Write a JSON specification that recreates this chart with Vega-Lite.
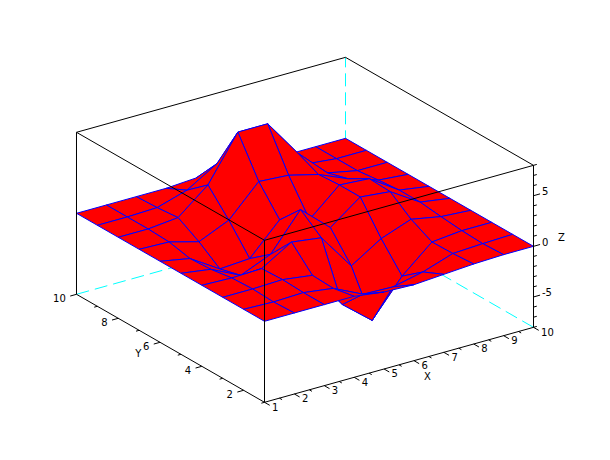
{"$schema":"https://vega.github.io/schema/vega-lite/v6.json","width":610,"height":460,"padding":0,"autosize":{"type":"fit","contains":"padding"},"background":"white","view":{"stroke":null},
"datasets":{
"grid":[
{"id":1010,"X":10,"Y":10,"Z":0},{"id":1009,"X":10,"Y":9,"Z":0},{"id":1008,"X":10,"Y":8,"Z":0},{"id":1007,"X":10,"Y":7,"Z":0},{"id":1006,"X":10,"Y":6,"Z":0},{"id":1005,"X":10,"Y":5,"Z":0},{"id":1004,"X":10,"Y":4,"Z":0},{"id":1003,"X":10,"Y":3,"Z":0},{"id":1002,"X":10,"Y":2,"Z":0},{"id":1001,"X":10,"Y":1,"Z":0},
{"id":910,"X":9,"Y":10,"Z":0},{"id":909,"X":9,"Y":9,"Z":0},{"id":908,"X":9,"Y":8,"Z":0},{"id":907,"X":9,"Y":7,"Z":0.25},{"id":906,"X":9,"Y":6,"Z":0.45},{"id":905,"X":9,"Y":5,"Z":0.45},{"id":904,"X":9,"Y":4,"Z":0.2},{"id":903,"X":9,"Y":3,"Z":0},{"id":902,"X":9,"Y":2,"Z":-0.1},{"id":901,"X":9,"Y":1,"Z":0},
{"id":810,"X":8,"Y":10,"Z":0},{"id":809,"X":8,"Y":9,"Z":0.3},{"id":808,"X":8,"Y":8,"Z":0.6},{"id":807,"X":8,"Y":7,"Z":1.2},{"id":806,"X":8,"Y":6,"Z":2.4},{"id":805,"X":8,"Y":5,"Z":2.3},{"id":804,"X":8,"Y":4,"Z":0.76},{"id":803,"X":8,"Y":3,"Z":-0.3},{"id":802,"X":8,"Y":2,"Z":-0.25},{"id":801,"X":8,"Y":1,"Z":-0.1},
{"id":710,"X":7,"Y":10,"Z":0.2},{"id":709,"X":7,"Y":9,"Z":0.8},{"id":708,"X":7,"Y":8,"Z":3.4},{"id":707,"X":7,"Y":7,"Z":2.45},{"id":706,"X":7,"Y":6,"Z":2.6},{"id":705,"X":7,"Y":5,"Z":2.6},{"id":704,"X":7,"Y":4,"Z":-0.33},{"id":703,"X":7,"Y":3,"Z":-2.85},{"id":702,"X":7,"Y":2,"Z":-1.25},{"id":701,"X":7,"Y":1,"Z":-0.3},
{"id":610,"X":6,"Y":10,"Z":0.4},{"id":609,"X":6,"Y":9,"Z":3},{"id":608,"X":6,"Y":8,"Z":7.1},{"id":607,"X":6,"Y":7,"Z":3.2},{"id":606,"X":6,"Y":6,"Z":0},{"id":605,"X":6,"Y":5,"Z":0.4},{"id":604,"X":6,"Y":4,"Z":-2.2},{"id":603,"X":6,"Y":3,"Z":-6.4},{"id":602,"X":6,"Y":2,"Z":-1.9},{"id":601,"X":6,"Y":1,"Z":-0.5},
{"id":510,"X":5,"Y":10,"Z":0.2},{"id":509,"X":5,"Y":9,"Z":2.8},{"id":508,"X":5,"Y":8,"Z":7.1},{"id":507,"X":5,"Y":7,"Z":3.4},{"id":506,"X":5,"Y":6,"Z":0.8},{"id":505,"X":5,"Y":5,"Z":3},{"id":504,"X":5,"Y":4,"Z":1.4},{"id":503,"X":5,"Y":3,"Z":-4},{"id":502,"X":5,"Y":2,"Z":-1.8},{"id":501,"X":5,"Y":1,"Z":-0.4},
{"id":410,"X":4,"Y":10,"Z":0},{"id":409,"X":4,"Y":9,"Z":1},{"id":408,"X":4,"Y":8,"Z":2.7},{"id":407,"X":4,"Y":7,"Z":0.4},{"id":406,"X":4,"Y":6,"Z":-2.2},{"id":405,"X":4,"Y":5,"Z":-0.6},{"id":404,"X":4,"Y":4,"Z":1.8},{"id":403,"X":4,"Y":3,"Z":-0.3},{"id":402,"X":4,"Y":2,"Z":-0.4},{"id":401,"X":4,"Y":1,"Z":0},
{"id":310,"X":3,"Y":10,"Z":0},{"id":309,"X":3,"Y":9,"Z":0.1},{"id":308,"X":3,"Y":8,"Z":0.3},{"id":307,"X":3,"Y":7,"Z":-0.9},{"id":306,"X":3,"Y":6,"Z":-2.4},{"id":305,"X":3,"Y":5,"Z":-1.85},{"id":304,"X":3,"Y":4,"Z":0},{"id":303,"X":3,"Y":3,"Z":0.1},{"id":302,"X":3,"Y":2,"Z":0},{"id":301,"X":3,"Y":1,"Z":0},
{"id":210,"X":2,"Y":10,"Z":0},{"id":209,"X":2,"Y":9,"Z":0},{"id":208,"X":2,"Y":8,"Z":0},{"id":207,"X":2,"Y":7,"Z":-0.1},{"id":206,"X":2,"Y":6,"Z":-0.55},{"id":205,"X":2,"Y":5,"Z":-0.43},{"id":204,"X":2,"Y":4,"Z":-0.1},{"id":203,"X":2,"Y":3,"Z":0},{"id":202,"X":2,"Y":2,"Z":-0.1},{"id":201,"X":2,"Y":1,"Z":0},
{"id":110,"X":1,"Y":10,"Z":0},{"id":109,"X":1,"Y":9,"Z":0},{"id":108,"X":1,"Y":8,"Z":0},{"id":107,"X":1,"Y":7,"Z":0},{"id":106,"X":1,"Y":6,"Z":0},{"id":105,"X":1,"Y":5,"Z":0},{"id":104,"X":1,"Y":4,"Z":0},{"id":103,"X":1,"Y":3,"Z":0},{"id":102,"X":1,"Y":2,"Z":0},{"id":101,"X":1,"Y":1,"Z":0}
],
"hidden":[
{"X":1,"Y":10,"Z":-8,"X2":10,"Y2":10,"Z2":-8},{"X":10,"Y":1,"Z":-8,"X2":10,"Y2":10,"Z2":-8},{"X":10,"Y":10,"Z":-8,"X2":10,"Y2":10,"Z2":8}
],
"box":[
{"X":1,"Y":1,"Z":8,"X2":10,"Y2":1,"Z2":8},{"X":10,"Y":1,"Z":8,"X2":10,"Y2":10,"Z2":8},{"X":10,"Y":10,"Z":8,"X2":1,"Y2":10,"Z2":8},{"X":1,"Y":10,"Z":8,"X2":1,"Y2":1,"Z2":8},
{"X":1,"Y":1,"Z":-8,"X2":10,"Y2":1,"Z2":-8},{"X":1,"Y":1,"Z":-8,"X2":1,"Y2":10,"Z2":-8},
{"X":1,"Y":1,"Z":-8,"X2":1,"Y2":1,"Z2":8},{"X":1,"Y":10,"Z":-8,"X2":1,"Y2":10,"Z2":8},{"X":10,"Y":1,"Z":-8,"X2":10,"Y2":1,"Z2":8}
],
"ticks":[
{"axis":"x","v":1,"major":1},{"axis":"x","v":1.5,"major":0},{"axis":"x","v":2,"major":1},{"axis":"x","v":2.5,"major":0},{"axis":"x","v":3,"major":1},{"axis":"x","v":3.5,"major":0},{"axis":"x","v":4,"major":1},{"axis":"x","v":4.5,"major":0},{"axis":"x","v":5,"major":1},{"axis":"x","v":5.5,"major":0},{"axis":"x","v":6,"major":1},{"axis":"x","v":6.5,"major":0},{"axis":"x","v":7,"major":1},{"axis":"x","v":7.5,"major":0},{"axis":"x","v":8,"major":1},{"axis":"x","v":8.5,"major":0},{"axis":"x","v":9,"major":1},{"axis":"x","v":9.5,"major":0},{"axis":"x","v":10,"major":1},
{"axis":"y","v":1,"major":0},{"axis":"y","v":2,"major":1},{"axis":"y","v":3,"major":0},{"axis":"y","v":4,"major":1},{"axis":"y","v":5,"major":0},{"axis":"y","v":6,"major":1},{"axis":"y","v":7,"major":0},{"axis":"y","v":8,"major":1},{"axis":"y","v":9,"major":0},{"axis":"y","v":10,"major":1},
{"axis":"z","v":-8,"major":0},{"axis":"z","v":-7,"major":0},{"axis":"z","v":-6,"major":0},{"axis":"z","v":-5,"major":1},{"axis":"z","v":-4,"major":0},{"axis":"z","v":-3,"major":0},{"axis":"z","v":-2,"major":0},{"axis":"z","v":-1,"major":0},{"axis":"z","v":0,"major":1},{"axis":"z","v":1,"major":0},{"axis":"z","v":2,"major":0},{"axis":"z","v":3,"major":0},{"axis":"z","v":4,"major":0},{"axis":"z","v":5,"major":1},{"axis":"z","v":6,"major":0},{"axis":"z","v":7,"major":0},{"axis":"z","v":8,"major":0}
],
"titles":[{"text":"X","X":5.65,"Y":-0.15,"Z":-8},{"text":"Y","X":0.04,"Y":5.67,"Z":-8},{"text":"Z","X":10.93,"Y":1,"Z":0.03}]
},
"encoding":{
"x":{"field":"px","type":"quantitative","axis":null,"scale":{"domain":[0,610],"nice":false,"zero":false}},
"y":{"field":"py","type":"quantitative","axis":null,"scale":{"domain":[460,0],"nice":false,"zero":false}}
},
"layer":[
{"data":{"name":"hidden"},
"transform":[
{"calculate":"264.5+(datum.X-1)*29.889-(datum.Y-1)*20.889","as":"px"},{"calculate":"402.3-(datum.X-1)*8.33-(datum.Y-1)*12-(datum.Z+8)*10.125","as":"py"},
{"calculate":"264.5+(datum.X2-1)*29.889-(datum.Y2-1)*20.889","as":"px2"},{"calculate":"402.3-(datum.X2-1)*8.33-(datum.Y2-1)*12-(datum.Z2+8)*10.125","as":"py2"}],
"mark":{"type":"rule","stroke":"#00ffff","strokeWidth":1,"strokeDash":[13,6]},
"encoding":{"x2":{"field":"px2"},"y2":{"field":"py2"}}},
{"data":{"name":"grid"},
"transform":[
{"filter":"datum.X<10 && datum.Y<10"},
{"calculate":"[0,1,1,0,0]","as":"dx"},{"calculate":"[0,0,1,1,0]","as":"dy"},{"calculate":"[0,1,2,3,4]","as":"k"},
{"flatten":["dx","dy","k"]},
{"calculate":"'q'+datum.X+'_'+datum.Y","as":"quad"},
{"calculate":"(datum.X+datum.dx)*100+datum.Y+datum.dy","as":"key"},
{"lookup":"key","from":{"data":{"name":"grid"},"key":"id","fields":["Z"]},"as":["vz"]},
{"calculate":"264.5+(datum.X+datum.dx-1)*29.889-(datum.Y+datum.dy-1)*20.889","as":"px"},
{"calculate":"402.3-(datum.X+datum.dx-1)*8.33-(datum.Y+datum.dy-1)*12-(datum.vz+8)*10.125","as":"py"}],
"mark":{"type":"line","fill":"#ff0000","stroke":"#0000ff","strokeWidth":1,"clip":false},
"encoding":{"detail":{"field":"quad"},"order":{"field":"k","type":"quantitative"}}},
{"data":{"name":"box"},
"transform":[
{"calculate":"264.5+(datum.X-1)*29.889-(datum.Y-1)*20.889","as":"px"},{"calculate":"402.3-(datum.X-1)*8.33-(datum.Y-1)*12-(datum.Z+8)*10.125","as":"py"},
{"calculate":"264.5+(datum.X2-1)*29.889-(datum.Y2-1)*20.889","as":"px2"},{"calculate":"402.3-(datum.X2-1)*8.33-(datum.Y2-1)*12-(datum.Z2+8)*10.125","as":"py2"}],
"mark":{"type":"rule","stroke":"#000000","strokeWidth":1},
"encoding":{"x2":{"field":"px2"},"y2":{"field":"py2"}}},
{"data":{"name":"ticks"},
"transform":[
{"calculate":"datum.axis=='x'?datum.v:(datum.axis=='y'?1:10)","as":"X"},
{"calculate":"datum.axis=='y'?datum.v:1","as":"Y"},
{"calculate":"datum.axis=='z'?datum.v:-8","as":"Z"},
{"calculate":"datum.major?1:0.5","as":"len"},
{"calculate":"datum.X+(datum.axis=='y'?-0.21*datum.len:(datum.axis=='z'?0.22*datum.len:0))","as":"X2"},
{"calculate":"datum.Y+(datum.axis=='x'?-0.25*datum.len:0)","as":"Y2"},
{"calculate":"264.5+(datum.X-1)*29.889-(datum.Y-1)*20.889","as":"px"},{"calculate":"402.3-(datum.X-1)*8.33-(datum.Y-1)*12-(datum.Z+8)*10.125","as":"py"},
{"calculate":"264.5+(datum.X2-1)*29.889-(datum.Y2-1)*20.889","as":"px2"},{"calculate":"402.3-(datum.X2-1)*8.33-(datum.Y2-1)*12-(datum.Z+8)*10.125","as":"py2"}],
"mark":{"type":"rule","stroke":"#000000","strokeWidth":1},
"encoding":{"x2":{"field":"px2"},"y2":{"field":"py2"}}},
{"data":{"name":"ticks"},
"transform":[{"filter":"datum.major==1 && datum.axis=='x'"},
{"calculate":"264.5+(datum.v-1)*29.889+21*0.36","as":"px"},{"calculate":"402.3-(datum.v-1)*8.33+12*0.36","as":"py"}],
"mark":{"type":"text","align":"left","baseline":"middle","font":"DejaVu Sans","fontSize":10,"fill":"#000000","dy":1},
"encoding":{"text":{"field":"v","type":"nominal"}}},
{"data":{"name":"ticks"},
"transform":[{"filter":"datum.major==1 && datum.axis=='y'"},
{"calculate":"264.5-0.39*29.889-(datum.v-1)*20.889","as":"px"},{"calculate":"402.3+0.39*8.33-(datum.v-1)*12","as":"py"}],
"mark":{"type":"text","align":"right","baseline":"middle","font":"DejaVu Sans","fontSize":10,"fill":"#000000","dx":1,"dy":1},
"encoding":{"text":{"field":"v","type":"nominal"}}},
{"data":{"name":"ticks"},
"transform":[{"filter":"datum.major==1 && datum.axis=='z'"},
{"calculate":"533+0.3*29.78","as":"px"},{"calculate":"402.3-9*8.33-0.3*8.33-(datum.v+8)*10.125","as":"py"}],
"mark":{"type":"text","align":"left","baseline":"middle","font":"DejaVu Sans","fontSize":10,"fill":"#000000","dy":-1},
"encoding":{"text":{"field":"v","type":"nominal"}}},
{"data":{"name":"titles"},
"transform":[
{"calculate":"264.5+(datum.X-1)*29.889-(datum.Y-1)*20.889","as":"px"},{"calculate":"402.3-(datum.X-1)*8.33-(datum.Y-1)*12-(datum.Z+8)*10.125","as":"py"}],
"mark":{"type":"text","align":"center","baseline":"middle","font":"DejaVu Sans","fontSize":10,"fill":"#000000"},
"encoding":{"text":{"field":"text","type":"nominal"}}}
]}
